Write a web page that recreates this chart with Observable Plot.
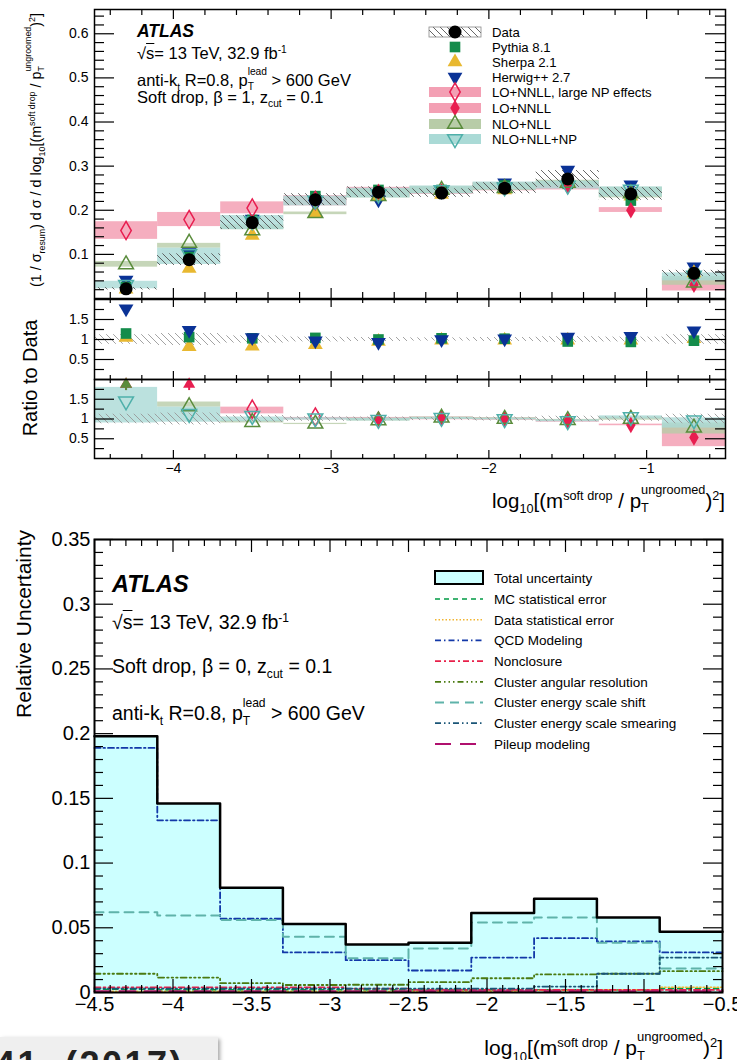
<!DOCTYPE html>
<html><head><meta charset="utf-8">
<script src="https://cdn.jsdelivr.net/npm/d3@7"></script>
<script src="https://cdn.jsdelivr.net/npm/@observablehq/plot@0.6"></script>
<style>
body{margin:0;background:#fff;font-family:"Liberation Sans",Arial,Helvetica,sans-serif;}
#page{position:relative;width:737px;height:1060px;overflow:hidden;background:#fff;}
#page svg{position:absolute;}
.txt{position:absolute;white-space:nowrap;color:#000;line-height:1;font-family:"Liberation Sans",Arial,Helvetica,sans-serif;}
.txt sup,.txt sub{font-size:0.62em;line-height:0;}
.stack{display:inline-flex;flex-direction:column;font-size:0.62em;line-height:1;vertical-align:1.1em;}
.stack span:last-child{margin-top:0.45em;}
.ov{text-decoration:overline;}
</style></head><body><div id="page"></div>
<script>
// ---------- bins ----------
const edges = [-4.5,-4.1,-3.7,-3.3,-2.9,-2.5,-2.1,-1.7,-1.3,-0.9,-0.5];

// ---------- top figure: distribution ----------
const dataVal   = [0.022,0.088,0.172,0.224,0.241,0.239,0.250,0.271,0.237,0.057];
const dataErr   = [0.12,0.15,0.09,0.06,0.05,0.04,0.05,0.07,0.06,0.12]; // relative
const pythia    = [0.026,0.094,0.178,0.232,0.246,0.246,0.256,0.260,0.222,0.056];
const sherpa    = [0.021,0.068,0.143,0.192,0.232,0.236,0.246,0.266,0.232,0.058];
const herwig    = [0.042,0.104,0.180,0.214,0.224,0.244,0.262,0.291,0.258,0.072];
const loLarge   = [0.154,0.179,0.205,0.222,null,null,null,null,null,null];
const loLargeLo = [0.134,0.163,0.192,0.210,null,null,null,null,null,null];
const loLargeHi = [0.174,0.195,0.219,0.233,null,null,null,null,null,null];
const loNnll    = [null,null,null,null,0.242,0.243,0.251,0.254,0.200,0.031];
const loNnllLo  = [null,null,null,null,0.232,0.236,0.244,0.246,0.195,0.017];
const loNnllHi  = [null,null,null,null,0.252,0.252,0.262,0.262,0.206,0.045];
const nloNll    = [0.077,0.126,0.154,0.193,0.232,0.246,0.250,0.262,0.238,0.036];
const nloNllLo  = [0.071,0.114,0.156,0.190,0.228,0.238,0.245,0.255,0.228,0.030];
const nloNllHi  = [0.084,0.125,0.167,0.196,0.248,0.254,0.262,0.268,0.252,0.050];
const nloNp     = [0.031,0.101,0.175,0.222,0.236,0.246,0.252,0.256,0.247,0.052];
const nloNpLo   = [0.022,0.077,0.156,0.210,0.228,0.237,0.246,0.248,0.230,0.040];
const nloNpHi   = [0.039,0.114,0.188,0.232,0.250,0.255,0.264,0.266,0.253,0.058];

// ratio to data: MC
const rPythia = [1.15,1.06,1.03,1.04,1.00,1.03,1.02,0.95,0.94,0.97];
const rSherpa = [1.05,0.82,0.83,0.87,0.95,0.98,0.98,0.98,0.98,1.02];
const rHerwig = [1.77,1.23,1.05,0.97,0.93,1.00,1.02,1.06,1.08,1.22];
// ratio to data: theory
const rLoLarge   = [7.0,2.03,1.25,1.05,null,null,null,null,null,null];
const rLoLargeLo = [null,null,1.13,0.98,null,null,null,null,null,null];
const rLoLargeHi = [null,null,1.30,1.04,null,null,null,null,null,null];
const rLo   = [null,null,null,null,1.00,1.02,1.00,0.95,0.85,0.53];
const rLoLo = [null,null,null,null,0.97,0.98,0.97,0.92,0.83,0.30];
const rLoHi = [null,null,null,null,1.04,1.05,1.03,0.97,0.87,0.85];
const rNlo   = [3.5,1.32,0.92,0.88,0.96,1.03,1.00,0.97,1.00,0.78];
const rNloLo = [null,1.30,0.90,0.86,0.95,0.99,0.98,0.95,0.97,0.62];
const rNloHi = [null,1.43,0.96,0.89,1.02,1.05,1.03,0.99,1.05,0.90];
const rNp   = [1.45,1.13,1.08,1.02,0.98,1.03,1.00,0.95,1.05,0.97];
const rNpLo = [0.90,0.92,0.93,0.97,0.95,0.99,0.98,0.93,1.00,0.77];
const rNpHi = [1.80,1.30,1.05,1.03,1.02,1.04,1.02,0.98,1.08,1.03];

// ---------- bottom figure: relative uncertainties ----------
const totalUnc   = [0.198,0.146,0.081,0.053,0.037,0.0385,0.0615,0.0725,0.058,0.047];
const mcStat     = [0.0025,0.002,0.002,0.002,0.002,0.002,0.002,0.002,0.002,0.003];
const dataStat   = [0.001,0.001,0.001,0.001,0.001,0.001,0.001,0.0015,0.002,0.004];
const qcdModel   = [0.189,0.133,0.057,0.031,0.025,0.017,0.027,0.042,0.0395,0.031];
const nonclosure = [0.004,0.004,0.004,0.004,0.003,0.002,0.002,0.002,0.002,0.002];
const angular    = [0.0145,0.0115,0.0072,0.0058,0.006,0.008,0.011,0.014,0.0145,0.0165];
const esShift    = [0.062,0.0595,0.056,0.043,0.0265,0.034,0.054,0.058,0.0385,0.0185];
const esSmear    = [0.003,0.003,0.003,0.003,0.003,0.003,0.003,0.0046,0.0145,0.027];
const pileup     = [0.001,0.001,0.001,0.001,0.001,0.001,0.001,0.001,0.001,0.001];

// ---------- tick labels ----------
const topYTicks = [0.1,0.2,0.3,0.4,0.5,0.6];
const ratioYTicks = [0.5,1,1.5];
const topXTicks = [-4,-3,-2,-1];
const botXTicks = [-4.5,-4,-3.5,-3,-2.5,-2,-1.5,-1,-0.5];
const botYTicks = [0,0.05,0.1,0.15,0.2,0.25,0.3,0.35];

// ---------- colours ----------
const C = {pythia:"#148c4b", sherpa:"#e8b830", herwig:"#0a3296", lo:"#e81e50", nlo:"#5a8c3c", np:"#4fb0aa",
  pinkBand:"#f3a0b4", nloBand:"#b8cca8", npBand:"#aadad6"};

const FONT = "'Liberation Sans', Arial, Helvetica, sans-serif";
const page = document.getElementById("page");
const fmt = d => String(d).replace("-", "\u2212");
const N = edges.length - 1;
const bins = d3.range(N).map(i => ({i, x1: edges[i], x2: edges[i+1], xc: (edges[i] + edges[i+1]) / 2}));
const rows = (v, lo, hi) => bins.map(b => ({...b, v: v ? v[b.i] : null, lo: lo ? lo[b.i] : null, hi: hi ? hi[b.i] : null}));
const has = k => d => d[k] != null;
const steps = v => edges.map((e, i) => ({x: e, y: v[Math.min(i, N - 1)]}));

// hatch patterns
const defs = document.createElementNS("http://www.w3.org/2000/svg", "svg");
defs.setAttribute("width", 0); defs.setAttribute("height", 0);
defs.innerHTML = `<defs>
<pattern id="hatch" patternUnits="userSpaceOnUse" width="7" height="7"><path d="M0,0L7,7M-1,6L1,8M6,-1L8,1" stroke="#555" stroke-width="0.9"/></pattern>
<pattern id="hatchL" patternUnits="userSpaceOnUse" width="7" height="7"><path d="M0,0L7,7M-1,6L1,8M6,-1L8,1" stroke="#999" stroke-width="0.9"/></pattern>
</defs>`;
page.appendChild(defs);

function place(svg, left, top) { svg.style.left = left + "px"; svg.style.top = top + "px"; page.appendChild(svg); return svg; }

function frameTicks(fw, fh, t) {
  const s = {stroke: "black", strokeWidth: 1.2};
  const m = [
    Plot.tickY(t.yMaj, {y: d => d, insetRight: fw - t.yMajLen, ...s}),
    Plot.tickY(t.yMin, {y: d => d, insetRight: fw - t.yMinLen, ...s}),
    Plot.tickY(t.yMaj, {y: d => d, insetLeft: fw - t.yMajLen, ...s}),
    Plot.tickY(t.yMin, {y: d => d, insetLeft: fw - t.yMinLen, ...s}),
    Plot.tickX(t.xMaj, {x: d => d, insetTop: fh - t.xMajLen, ...s}),
    Plot.tickX(t.xMin, {x: d => d, insetTop: fh - t.xMinLen, ...s})
  ];
  if (t.top !== false) m.push(
    Plot.tickX(t.xMaj, {x: d => d, insetBottom: fh - t.xMajLen, ...s}),
    Plot.tickX(t.xMin, {x: d => d, insetBottom: fh - t.xMinLen, ...s}));
  return m;
}
const minorTicks = (a, b, step, majors) => d3.range(Math.round((b - a) / step) + 1).map(k => +(a + k * step).toFixed(4)).filter(v => !majors.some(m => Math.abs(m - v) < 1e-6));

const styleTop = {fontFamily: FONT, fontSize: "14px", color: "black", background: "transparent", overflow: "visible"};
const XD = [-4.5, -0.5];
const FW = 631;
const topXMinor = minorTicks(-4.4, -0.6, 0.2, topXTicks);

// ---------- main panel ----------
const bandMarks = (lo, hi, fill, op) => Plot.rect(rows(null, lo, hi).filter(has("lo")), {x1: "x1", x2: "x2", y1: "lo", y2: "hi", fill, fillOpacity: op});
const mainH = 289;
const main = Plot.plot({
  width: 737, height: 300, marginLeft: 94, marginRight: 12, marginTop: 9, marginBottom: 2,
  style: styleTop, x: {domain: XD, axis: null}, y: {domain: [0, 0.655]},
  marks: [
    bandMarks(loLargeLo, loLargeHi, C.pinkBand, 0.85),
    bandMarks(loNnllLo, loNnllHi, C.pinkBand, 0.85),
    bandMarks(nloNllLo, nloNllHi, C.nloBand, 0.8),
    bandMarks(nloNpLo, nloNpHi, C.npBand, 0.8),
    Plot.rect(rows(dataVal, dataErr), {x1: "x1", x2: "x2", y1: d => d.v * (1 - d.lo), y2: d => d.v * (1 + d.lo), fill: "url(#hatch)"}),
    Plot.dot(rows(herwig), {x: "xc", y: "v", symbol: "triangle", rotate: 180, r: 5.5, fill: C.herwig}),
    Plot.dot(rows(sherpa), {x: "xc", y: "v", symbol: "triangle", r: 5.5, fill: C.sherpa}),
    Plot.dot(rows(pythia), {x: "xc", y: "v", symbol: "square", r: 6, fill: C.pythia}),
    Plot.dot(rows(loLarge).filter(has("v")), {x: "xc", y: "v", symbol: "diamond", r: 5.5, fill: "none", stroke: C.lo, strokeWidth: 1.5}),
    Plot.dot(rows(loNnll).filter(has("v")), {x: "xc", y: "v", symbol: "diamond", r: 5, fill: C.lo}),
    Plot.dot(rows(nloNll), {x: "xc", y: "v", symbol: "triangle", r: 5.5, fill: "none", stroke: C.nlo, strokeWidth: 1.5}),
    Plot.dot(rows(nloNp), {x: "xc", y: "v", symbol: "triangle", rotate: 180, r: 5.5, fill: "none", stroke: C.np, strokeWidth: 1.5}),
    Plot.dot(rows(dataVal), {x: "xc", y: "v", r: 6.5, fill: "black"}),
    Plot.axisY(topYTicks, {tickSize: 0, tickPadding: 6, tickFormat: fmt, label: null}),
    ...frameTicks(FW, mainH, {yMaj: topYTicks, yMin: minorTicks(0.02, 0.64, 0.02, topYTicks), yMajLen: 20, yMinLen: 10,
      xMaj: topXTicks, xMin: topXMinor, xMajLen: 10, xMinLen: 6}),
    Plot.frame({stroke: "black", strokeWidth: 1.5})
  ]
});
place(main, 0, 0);

// ---------- ratio panel 1 (MC / data) ----------
const ratioYMinor = [0.25, 0.75, 1.25, 1.75];
const r1 = Plot.plot({
  width: 737, height: 82, marginLeft: 94, marginRight: 12, marginTop: 1, marginBottom: 1,
  style: styleTop, x: {domain: XD, axis: null}, y: {domain: [0, 2]},
  marks: [
    Plot.rect(rows(null, dataErr), {x1: "x1", x2: "x2", y1: d => 1 - d.lo, y2: d => 1 + d.lo, fill: "url(#hatchL)"}),
    Plot.dot(rows(rSherpa), {x: "xc", y: "v", symbol: "triangle", r: 5.5, fill: C.sherpa}),
    Plot.dot(rows(rPythia), {x: "xc", y: "v", symbol: "square", r: 6, fill: C.pythia}),
    Plot.dot(rows(rHerwig), {x: "xc", y: "v", symbol: "triangle", rotate: 180, r: 5.5, fill: C.herwig}),
    Plot.axisY(ratioYTicks, {tickSize: 0, tickPadding: 6, tickFormat: fmt, label: null}),
    ...frameTicks(FW, 80, {yMaj: ratioYTicks, yMin: ratioYMinor, yMajLen: 20, yMinLen: 10,
      xMaj: topXTicks, xMin: topXMinor, xMajLen: 8, xMinLen: 4}),
    Plot.frame({stroke: "black", strokeWidth: 1.5})
  ]
});
place(r1, 0, 298);

// ---------- ratio panel 2 (theory / data) ----------
const RMAX = 2;
const offScale = v => rows(v).filter(d => d.v != null && d.v > RMAX);
const arrow = (v, color) => [
  Plot.ruleX(offScale(v), {x: "xc", y1: RMAX * 0.86, y2: RMAX * 0.94, stroke: color, strokeWidth: 2}),
  Plot.dot(offScale(v), {x: "xc", y: RMAX * 0.94, symbol: "triangle", r: 4.5, fill: color})
];
const inRange = v => rows(v).filter(d => d.v != null && d.v <= RMAX);
const rBand = (lo, hi, fill, op) => Plot.rect(rows(null, lo, hi).filter(has("lo")), {x1: "x1", x2: "x2", y1: "lo", y2: "hi", fill, fillOpacity: op});
const r2 = Plot.plot({
  width: 737, height: 112, marginLeft: 94, marginRight: 12, marginTop: 1, marginBottom: 32,
  style: styleTop, x: {domain: XD}, y: {domain: [0, RMAX]},
  marks: [
    rBand(rLoLargeLo, rLoLargeHi, C.pinkBand, 0.85),
    rBand(rLoLo, rLoHi, C.pinkBand, 0.85),
    rBand(rNloLo, rNloHi, C.nloBand, 0.8),
    rBand(rNpLo, rNpHi, C.npBand, 0.8),
    Plot.rect(rows(null, dataErr), {x1: "x1", x2: "x2", y1: d => 1 - d.lo, y2: d => 1 + d.lo, fill: "url(#hatchL)"}),
    ...arrow(rLoLarge, C.lo),
    ...arrow(rNlo, C.nlo),
    Plot.dot(inRange(rLoLarge), {x: "xc", y: "v", symbol: "diamond", r: 5.5, fill: "none", stroke: C.lo, strokeWidth: 1.5}),
    Plot.dot(inRange(rLo), {x: "xc", y: "v", symbol: "diamond", r: 5, fill: C.lo}),
    Plot.dot(inRange(rNlo), {x: "xc", y: "v", symbol: "triangle", r: 5.5, fill: "none", stroke: C.nlo, strokeWidth: 1.5}),
    Plot.dot(inRange(rNp), {x: "xc", y: "v", symbol: "triangle", rotate: 180, r: 5.5, fill: "none", stroke: C.np, strokeWidth: 1.5}),
    Plot.axisY(ratioYTicks, {tickSize: 0, tickPadding: 6, tickFormat: fmt, label: null}),
    Plot.axisX(topXTicks, {tickSize: 0, tickPadding: 5, tickFormat: fmt, label: null}),
    ...frameTicks(FW, 79, {yMaj: ratioYTicks, yMin: ratioYMinor, yMajLen: 20, yMinLen: 10,
      xMaj: topXTicks, xMin: topXMinor, xMajLen: 8, xMinLen: 4}),
    Plot.frame({stroke: "black", strokeWidth: 1.5})
  ]
});
place(r2, 0, 378);

// ---------- bottom panel ----------
const lineSpec = [
  [mcStat, "#009a44", "5,4", 1.6],
  [dataStat, "#f2b530", "1.5,2", 1.6],
  [qcdModel, "#1238a8", "6,3,1.5,3", 1.8],
  [nonclosure, "#e8204a", "6,3,2,3", 1.8],
  [angular, "#4a7a10", "6,3,1.5,3,1.5,3,1.5,3", 1.8],
  [esShift, "#5fb3aa", "9,6", 2],
  [esSmear, "#1a5577", "6,3,1.5,3,1.5,3", 1.8],
  [pileup, "#b0106e", "16,9", 2]
];
const botXMinor = minorTicks(-4.4, -0.6, 0.1, botXTicks);
const botYMinor = minorTicks(0.01, 0.34, 0.01, botYTicks);
const bottom = Plot.plot({
  width: 737, height: 500, marginLeft: 94, marginRight: 15, marginTop: 9, marginBottom: 38,
  style: {...styleTop, fontSize: "20px"}, x: {domain: XD}, y: {domain: [0, 0.35]},
  marks: [
    Plot.areaY(steps(totalUnc), {x: "x", y: "y", curve: "step-after", fill: "#ccffff"}),
    ...lineSpec.map(([v, c, dash, w]) => Plot.line(steps(v), {x: "x", y: "y", curve: "step-after", stroke: c, strokeDasharray: dash, strokeWidth: w})),
    Plot.line(steps(totalUnc), {x: "x", y: "y", curve: "step-after", stroke: "black", strokeWidth: 2.5}),
    Plot.axisX(botXTicks, {tickSize: 0, tickPadding: 4, tickFormat: fmt, label: null}),
    Plot.axisY(botYTicks, {tickSize: 0, tickPadding: 4, tickFormat: fmt, label: null}),
    ...frameTicks(628, 453, {yMaj: botYTicks, yMin: botYMinor, yMajLen: 19, yMinLen: 9,
      xMaj: botXTicks, xMin: botXMinor, xMajLen: 13, xMinLen: 7}),
    Plot.frame({stroke: "black", strokeWidth: 2})
  ]
});
place(bottom, 0, 530);

// ---------- legends ----------
function legendSvg(h) {
  return d3.select(page).append("svg").attr("width", 737).attr("height", h).style("left", "0px").style("top", "0px");
}
const sym = (type, r) => d3.symbol(type, Math.PI * r * r)();
const lg = legendSvg(160);
const lrows = [
  {y: 32, t: "Data", band: "url(#hatch)", bs: "#888", sym: d3.symbolCircle, r: 6.5, fill: "black"},
  {y: 47, t: "Pythia 8.1", sym: d3.symbolSquare, r: 6, fill: C.pythia},
  {y: 62, t: "Sherpa 2.1", sym: d3.symbolTriangle, r: 5.5, fill: C.sherpa},
  {y: 77, t: "Herwig++ 2.7", sym: d3.symbolTriangle, r: 5.5, fill: C.herwig, rot: 180},
  {y: 92, t: "LO+NNLL, large NP effects", band: C.pinkBand, sym: d3.symbolDiamond, r: 5.5, stroke: C.lo},
  {y: 108, t: "LO+NNLL", band: C.pinkBand, sym: d3.symbolDiamond, r: 5, fill: C.lo},
  {y: 124, t: "NLO+NLL", band: C.nloBand, sym: d3.symbolTriangle, r: 5.5, stroke: C.nlo},
  {y: 139, t: "NLO+NLL+NP", band: C.npBand, sym: d3.symbolTriangle, r: 5.5, stroke: C.np, rot: 180}
];
lrows.forEach(d => {
  if (d.band) lg.append("rect").attr("x", 429).attr("y", d.y - 5).attr("width", 52).attr("height", 10)
    .attr("fill", d.band).attr("stroke", d.bs || "none").attr("stroke-width", 0.8);
  lg.append("path").attr("d", sym(d.sym, d.r)).attr("transform", `translate(455,${d.y}) rotate(${d.rot || 0})`)
    .attr("fill", d.fill || "none").attr("stroke", d.stroke || "none").attr("stroke-width", 1.5);
  lg.append("text").attr("x", 492).attr("y", d.y).attr("dy", "0.36em").attr("font-size", 13.2)
    .attr("font-family", FONT).text(d.t);
});

const bl = legendSvg(1060);
const blNames = ["MC statistical error", "Data statistical error", "QCD Modeling", "Nonclosure", "Cluster angular resolution",
  "Cluster energy scale shift", "Cluster energy scale smearing", "Pileup modeling"];
bl.append("rect").attr("x", 435).attr("y", 571).attr("width", 48).attr("height", 13).attr("fill", "#ccffff").attr("stroke", "black").attr("stroke-width", 2);
bl.append("text").attr("x", 494).attr("y", 578).attr("dy", "0.36em").attr("font-size", 13.5).attr("font-family", FONT).text("Total uncertainty");
lineSpec.forEach(([v, c, dash, w], k) => {
  const y = 599 + k * 20.7;
  bl.append("line").attr("x1", 435).attr("x2", 483).attr("y1", y).attr("y2", y).attr("stroke", c).attr("stroke-dasharray", dash).attr("stroke-width", w);
  bl.append("text").attr("x", 494).attr("y", y).attr("dy", "0.36em").attr("font-size", 13.5).attr("font-family", FONT).text(blNames[k]);
});

// ---------- text ----------
function txt(html, left, cy, size, extra = {}) {
  const d = document.createElement("div");
  d.className = "txt"; d.innerHTML = html;
  d.style.left = left + "px"; d.style.top = (cy - 0.49 * size) + "px"; d.style.fontSize = size + "px";
  Object.assign(d.style, extra); page.appendChild(d); return d;
}
function rot(html, cx, cy, size) {
  const d = document.createElement("div");
  d.className = "txt"; d.innerHTML = html; d.style.fontSize = size + "px";
  d.style.left = cx + "px"; d.style.top = cy + "px";
  d.style.transform = "translate(-50%,-50%) rotate(-90deg)";
  page.appendChild(d); return d;
}
const stack = (a, b) => `<span class="stack"><span>${a}</span><span>${b}</span></span>`;
const sqrtS = `\u221A<span class="ov">s</span>`;
const xTitle = `log<sub>10</sub>[(m<sup>soft drop</sup> / p${stack("ungroomed", "T")})<sup>2</sup>]`;

txt("<b><i>ATLAS</i></b>", 137, 32, 17.5);
txt(`${sqrtS}= 13 TeV, 32.9 fb<sup>-1</sup>`, 137, 53, 16.5);
txt(`anti-k<sub>t</sub> R=0.8, p${stack("lead", "T")} &gt; 600 GeV`, 137, 75, 16.5);
txt(`Soft drop, \u03B2 = 1, z<sub>cut</sub> = 0.1`, 137, 97, 16.5);
rot(`(1 / \u03C3<sub>resum</sub>) d \u03C3 / d log<sub>10</sub>[(m<sup>soft drop</sup> / p${stack("ungroomed", "T")})<sup>2</sup>]`, 35, 150, 14.3);
rot("Ratio to Data", 30, 378, 20);
const xt1 = txt(xTitle, 0, 494, 20.5); xt1.style.left = ""; xt1.style.right = (737 - 725) + "px";

txt("<b><i>ATLAS</i></b>", 112, 585, 23.5);
txt(`${sqrtS}= 13 TeV, 32.9 fb<sup>-1</sup>`, 112, 623, 19.5);
txt(`Soft drop, \u03B2 = 0, z<sub>cut</sub> = 0.1`, 112, 667, 19.5);
txt(`anti-k<sub>t</sub> R=0.8, p${stack("lead", "T")} &gt; 600 GeV`, 112, 707, 19.5);
const yt = document.createElement("div");
yt.className = "txt"; yt.textContent = "Relative Uncertainty"; yt.style.fontSize = "21px";
yt.style.left = "23px"; yt.style.top = "530px"; yt.style.transformOrigin = "0 0";
yt.style.transform = "rotate(-90deg) translate(-100%,-50%)";
page.appendChild(yt);
const xt2 = txt(xTitle, 0, 1040, 21); xt2.style.left = ""; xt2.style.right = (737 - 723) + "px";

// caption box (cut at page bottom)
const box = document.createElement("div");
Object.assign(box.style, {position: "absolute", left: "0px", top: "1037px", width: "218px", height: "40px", background: "#efefef",
  boxShadow: "2px 2px 4px rgba(0,0,0,0.35)", overflow: "hidden"});
box.innerHTML = `<span class="txt" style="right:34px;top:10px;font-size:36px;font-weight:bold;letter-spacing:2.5px;color:#222">arXiv:1711.08341, (2017)</span>`;
page.appendChild(box);
</script></body></html>
